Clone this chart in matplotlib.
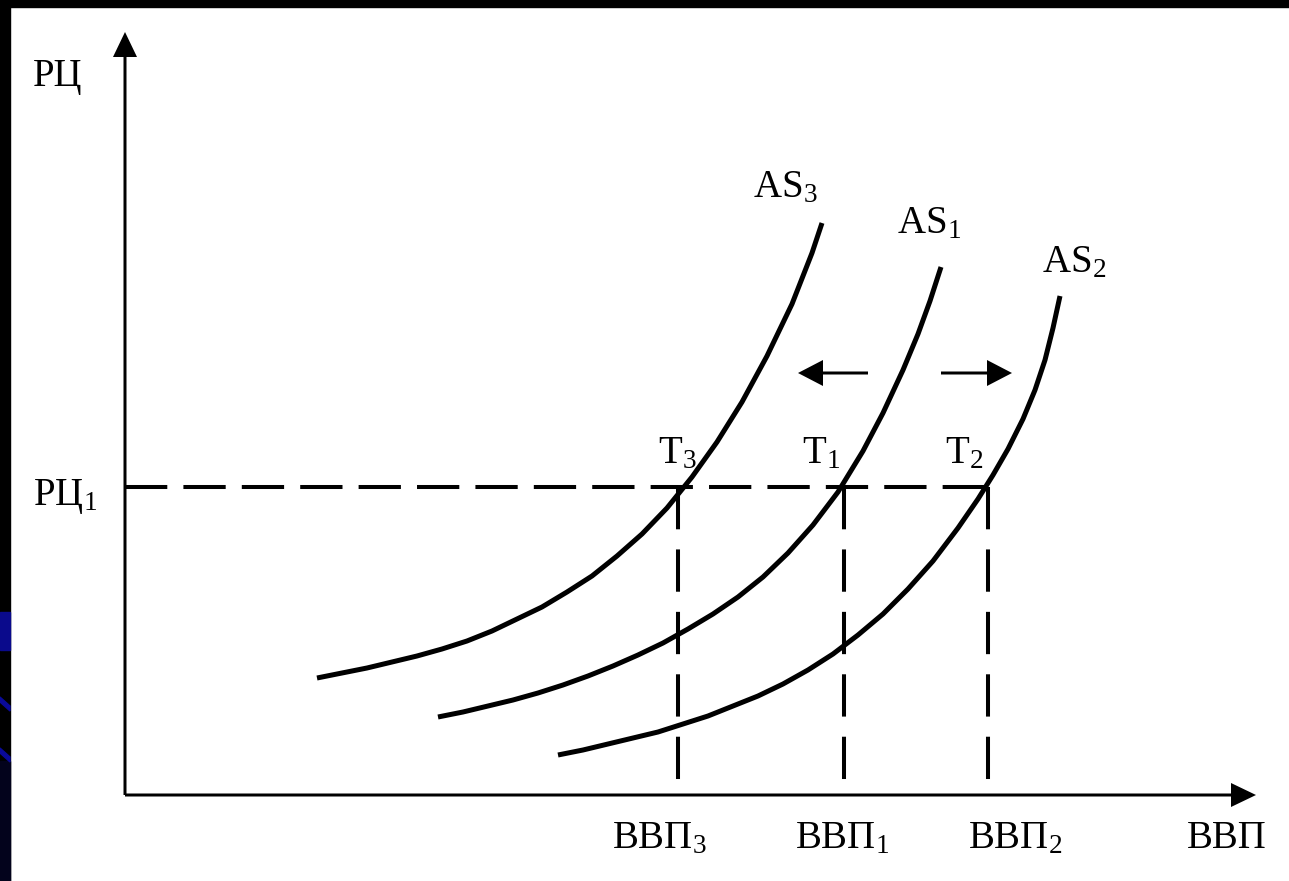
import matplotlib
matplotlib.use("Agg")
import matplotlib.pyplot as plt
from matplotlib.patches import Rectangle, Polygon

plt.rcParams['font.family'] = ['Liberation Serif', 'DejaVu Serif']
plt.rcParams['mathtext.fontset'] = 'custom'
plt.rcParams['mathtext.rm'] = 'Liberation Serif'
plt.rcParams['mathtext.it'] = 'Liberation Serif:italic'
plt.rcParams['mathtext.bf'] = 'Liberation Serif:bold'

# aggregate supply curves (schematic units, origin at axes crossing)
as3_x = [192, 217, 242, 267, 292, 317, 342, 367, 392, 417, 442, 467, 492, 517,
         542, 567, 592, 617, 642, 667, 687, 697]
as3_y = [117, 122, 127, 133, 139, 146, 154, 164, 176, 188, 203, 219, 239, 261,
         287, 318, 353, 393, 439, 491, 542, 572]

as1_x = [313, 338, 363, 388, 413, 438, 463, 488, 513, 538, 563, 588, 613, 638,
         663, 688, 713, 738, 758, 778, 793, 805, 816]
as1_y = [78, 83, 89, 95, 102, 110, 119, 129, 140, 152, 166, 181, 198, 218,
         242, 270, 303, 344, 382, 425, 461, 494, 528]

as2_x = [433, 458, 483, 508, 533, 558, 583, 608, 633, 658, 683, 708, 733, 758,
         783, 808, 833, 853, 868, 883, 898, 910, 920, 928, 935]
as2_y = [40, 45, 51, 57, 63, 71, 79, 89, 99, 111, 125, 141, 160, 181,
         206, 234, 267, 296, 320, 346, 376, 405, 435, 467, 499]

price_1 = 308
gdp_eq = [553, 719, 863]          # ВВП3, ВВП1, ВВП2
gdp_labels = ['ВВП$_{3}$', 'ВВП$_{1}$', 'ВВП$_{2}$']
point_labels = ['Т$_{3}$', 'Т$_{1}$', 'Т$_{2}$']

fig = plt.figure(figsize=(12.89, 8.81), dpi=100)
fig.patch.set_facecolor('white')
ax = fig.add_axes([0, 0, 1, 1])
ax.set_xlim(-125, 1164)
ax.set_ylim(-86, 795)
ax.set_axis_off()

# axes with arrow heads
ax.arrow(0, 0, 0, 763, width=3, head_width=24, head_length=25,
         length_includes_head=True, fc='black', ec='none')
ax.arrow(0, 0, 1131, 0, width=3, head_width=24, head_length=25,
         length_includes_head=True, fc='black', ec='none')

# dashed guides
ax.plot([0, gdp_eq[2]], [price_1, price_1], color='black', lw=2.9, dashes=(10.5, 4))
for g in gdp_eq:
    ax.plot([g, g], [price_1, 0], color='black', lw=2.9, dashes=(10.5, 5))

# AS curves
for xs, ys in [(as3_x, as3_y), (as1_x, as1_y), (as2_x, as2_y)]:
    ax.plot(xs, ys, color='black', lw=3.6, solid_capstyle='butt',
            solid_joinstyle='round')

# shift arrows
ax.arrow(743, 422, -70, 0, width=3, head_width=26, head_length=25,
         length_includes_head=True, fc='black', ec='none')
ax.arrow(816, 422, 71, 0, width=3, head_width=26, head_length=25,
         length_includes_head=True, fc='black', ec='none')

fs = 28
ax.text(-92, 709, 'РЦ', fontsize=fs, ha='left', va='baseline')
ax.text(-92, 290, 'РЦ$_{1}$', fontsize=fs, ha='left', va='baseline')
for x0, lab in zip([487, 670, 843], gdp_labels):
    ax.text(x0, -53, lab, fontsize=fs, ha='left', va='baseline')
ax.text(1062, -53, 'ВВП', fontsize=fs, ha='left', va='baseline')
for x0, lab in zip([533, 677, 820], point_labels):
    ax.text(x0, 332, lab, fontsize=fs, ha='left', va='baseline')
ax.text(628, 598, 'AS$_{3}$', fontsize=fs, ha='left', va='baseline')
ax.text(772, 562, 'AS$_{1}$', fontsize=fs, ha='left', va='baseline')
ax.text(917, 523, 'AS$_{2}$', fontsize=fs, ha='left', va='baseline')

# slide frame remnants (black border, blue bits on the left)
W, H = 1289.0, 881.0
fig.add_artist(Rectangle((0, 1 - 7 / H), 1, 7 / H, transform=fig.transFigure,
                         color='black', zorder=10))
fig.add_artist(Rectangle((0, 0), 10 / W, 1, transform=fig.transFigure,
                         color='black', zorder=10))
fig.add_artist(Rectangle((0, 0), 10 / W, 120 / H, transform=fig.transFigure,
                         color='#03031c', zorder=11))
fig.add_artist(Rectangle((0, 1 - 650 / H), 10 / W, 38 / H, transform=fig.transFigure,
                         color='#0a0a8c', zorder=11))
for y0 in [697, 748]:
    fig.add_artist(Polygon([(0, 1 - y0 / H), (0, 1 - (y0 + 5) / H),
                            (10 / W, 1 - (y0 + 14) / H), (10 / W, 1 - (y0 + 9) / H)],
                           closed=True, transform=fig.transFigure,
                           color='#0a0a9a', zorder=12))

fig.savefig('out.png', dpi=100)
